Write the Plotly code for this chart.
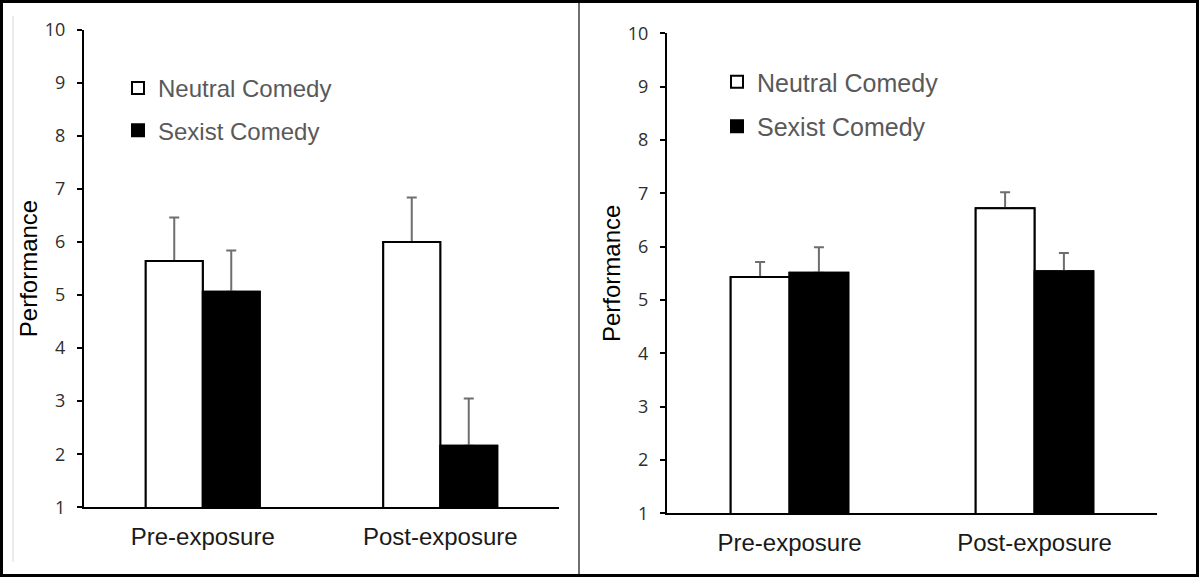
import plotly.graph_objects as go

W, H = 1199, 577

categories = ["Pre-exposure", "Post-exposure"]
series_names = ["Neutral Comedy", "Sexist Comedy"]

left_neutral = [5.64, 6.00]
left_neutral_err = [0.82, 0.84]
left_sexist = [5.06, 2.16]
left_sexist_err = [0.78, 0.89]

right_neutral = [5.43, 6.72]
right_neutral_err = [0.28, 0.30]
right_sexist = [5.51, 5.54]
right_sexist_err = [0.48, 0.34]

y_ticks = [1, 2, 3, 4, 5, 6, 7, 8, 9, 10]

fig = go.Figure()

def err(arr):
    return dict(type="data", symmetric=False, array=arr, arrayminus=[0] * len(arr),
                color="#6e6e6e", thickness=2, width=5)

fills = ["white", "black"]
panels = [
    ("x", "y", "legend", [left_neutral, left_sexist], [left_neutral_err, left_sexist_err]),
    ("x2", "y2", "legend2", [right_neutral, right_sexist], [right_neutral_err, right_sexist_err]),
]
for xa, ya, lg, vals, errs in panels:
    # error bars first (drawn underneath the bars they belong to)
    for i, name in enumerate(series_names):
        fig.add_trace(go.Bar(
            x=categories, y=vals[i], name=name, xaxis=xa, yaxis=ya,
            marker=dict(color=fills[i], line=dict(color="black", width=2)),
            error_y=err(errs[i]), offsetgroup=str(i), showlegend=False, hoverinfo="skip",
        ))
    for i, name in enumerate(series_names):
        fig.add_trace(go.Bar(
            x=categories, y=vals[i], name=name, xaxis=xa, yaxis=ya,
            marker=dict(color=fills[i], line=dict(color="black", width=2)),
            offsetgroup=str(i), legend=lg, legendgroup=lg + name,
        ))

def px_x(p):
    return p / W

def px_y(p):
    return 1 - p / H

tickfont = dict(family="Open Sans", size=18, color="#2e2e2e")
xfont = dict(family="Liberation Sans, Arial", size=24, color="#1a1a1a")
titlefont = dict(family="Liberation Sans, Arial", size=24, color="#000000")

common_y = dict(range=[1, 10], tickvals=y_ticks, showline=True, linecolor="black", linewidth=2,
                ticks="outside", ticklen=5, tickwidth=1.5, tickcolor="black",
                tickfont=tickfont, showgrid=False, zeroline=False, ticklabelstandoff=8,
                automargin=False,
                title=dict(text="Performance", font=titlefont, standoff=0), fixedrange=True)
common_x = dict(showline=True, linecolor="black", linewidth=2, ticks="", tickfont=xfont,
                showgrid=False, zeroline=False, ticklabelstandoff=7, range=[-0.5, 1.5],
                automargin=False, fixedrange=True)

fig.update_layout(
    template="none",
    width=W, height=H, autosize=False,
    margin=dict(l=0, r=0, t=0, b=0, pad=0, autoexpand=False),
    paper_bgcolor="white", plot_bgcolor="white",
    barmode="group", bargap=0.52, bargroupgap=0,
    showlegend=True,
    xaxis=dict(domain=[px_x(84), px_x(559)], anchor="y", **common_x),
    yaxis=dict(domain=[1 - 507.3 / H, 1 - 29.7 / H], anchor="x", **common_y),
    xaxis2=dict(domain=[px_x(667), px_x(1157)], anchor="y2", **common_x),
    yaxis2=dict(domain=[1 - 513.3 / H, 1 - 33.3 / H], anchor="x2", **common_y),
    legend=dict(x=px_x(118), y=px_y(66), xanchor="left", yanchor="top",
                font=dict(family="Liberation Sans, Arial", size=24, color="#595959"),
                tracegroupgap=8, bgcolor="rgba(0,0,0,0)", itemclick=False),
    legend2=dict(x=px_x(717), y=px_y(59), xanchor="left", yanchor="top",
                 font=dict(family="Liberation Sans, Arial", size=25, color="#595959"),
                 tracegroupgap=9, bgcolor="rgba(0,0,0,0)", itemclick=False),
    shapes=[
        dict(type="line", xref="paper", yref="paper", x0=px_x(13), x1=px_x(13), y0=px_y(562), y1=px_y(16),
             line=dict(color="#d9d9d9", width=1), layer="below"),
        dict(type="line", xref="paper", yref="paper", x0=px_x(579), x1=px_x(579), y0=0, y1=1,
             line=dict(color="#404040", width=1.5)),
        dict(type="rect", xref="paper", yref="paper", x0=px_x(1.5), x1=px_x(1197.5), y0=px_y(575.5), y1=px_y(1.5),
             line=dict(color="black", width=3)),
    ],
)

fig.write_html("out.html", config={"displayModeBar": False},
               post_script="document.body.style.margin='0';document.body.style.overflow='hidden';")
